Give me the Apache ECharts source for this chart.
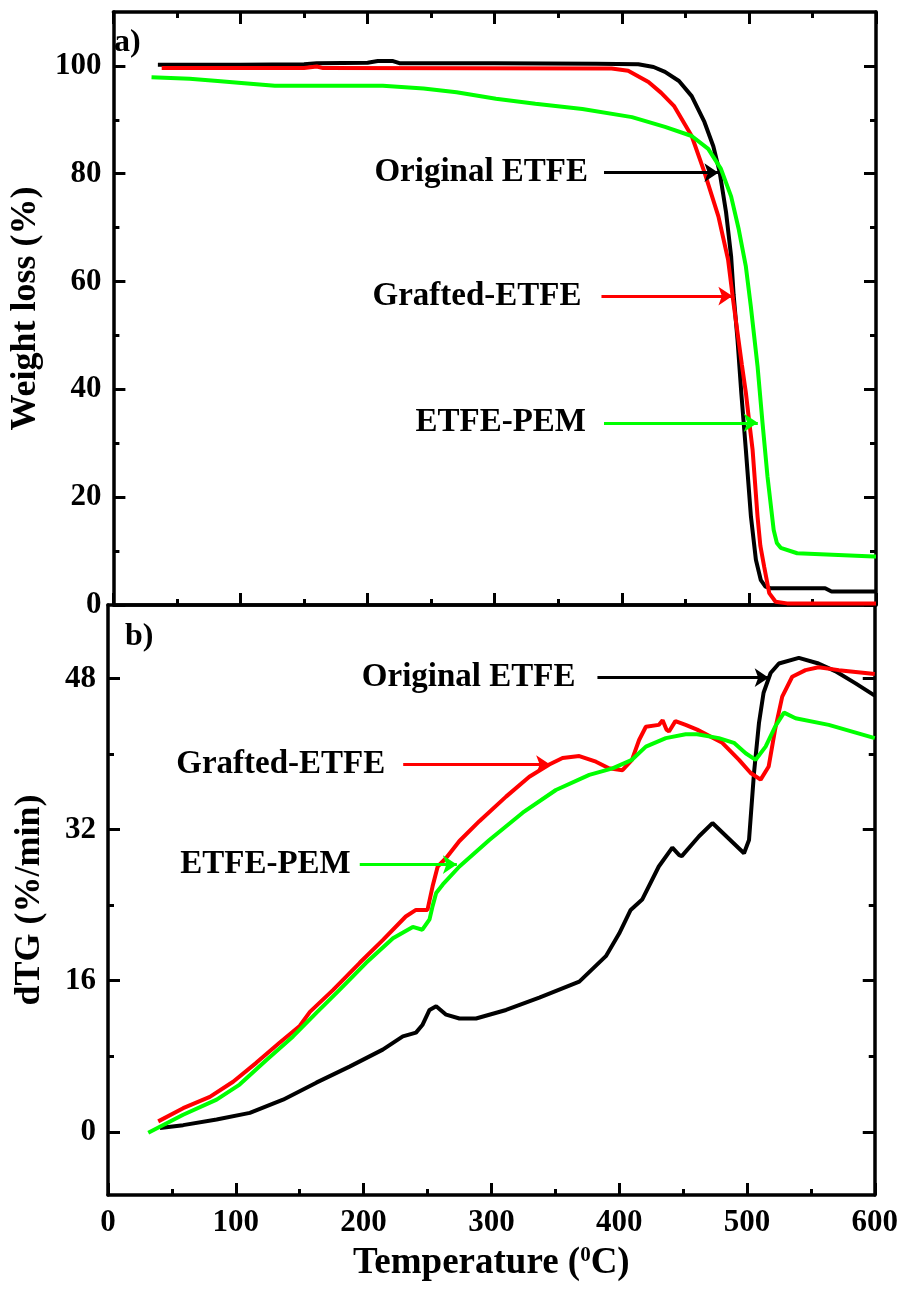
<!DOCTYPE html>
<html>
<head>
<meta charset="utf-8">
<title>TGA / dTG of ETFE membranes</title>
<script src="https://cdn.jsdelivr.net/npm/echarts@6/dist/echarts.min.js"></script>
<style>
    html, body { margin: 0; padding: 0; background: #fff; }
    #chart { width: 901px; height: 1292px; }
</style>
</head>
<body>
<div id="chart"></div>
<script>
// a) weight loss curves, temperature (oC) / weight (%)
const tgOriginalT = [35, 100, 150, 160, 200, 208, 220, 225, 300, 380, 413, 425, 434, 445, 455, 465, 472, 477, 482, 486, 488, 491, 494, 497.6, 501.6, 505.5, 509.4, 513, 517, 560, 565, 600];
const tgOriginalW = [100.2, 100.2, 100.3, 100.5, 100.6, 100.9, 100.9, 100.5, 100.5, 100.4, 100.3, 99.8, 98.9, 97.2, 94.4, 89.6, 85.1, 80.3, 72.9, 64.7, 57.5, 49.3, 39.4, 28.8, 16.4, 8.4, 4.6, 3.4, 3.1, 3.1, 2.5, 2.5];

const tgGraftedT = [38, 150, 160, 165, 392, 405, 421, 431, 441, 455, 465, 476, 483.6, 487.5, 491, 494.5, 497.6, 500, 502.9, 506.8, 509, 512, 516, 521, 530, 600];
const tgGraftedW = [99.6, 99.6, 99.9, 99.6, 99.5, 99.1, 97.0, 95.0, 92.6, 87.0, 80.3, 72.1, 64.1, 56.7, 50.6, 44.5, 39.4, 34.5, 28.8, 16.4, 11.0, 7.1, 2.2, 0.6, 0.3, 0.3];

const tgPemT = [30, 60, 82, 103, 127, 212, 244, 270, 301, 332, 369, 408, 434, 455, 468, 478, 486, 492, 497.6, 501.5, 506.8, 510.7, 514.6, 519.5, 522, 525, 538, 598, 600];
const tgPemW = [97.9, 97.6, 97.2, 96.8, 96.3, 96.3, 95.8, 95.1, 93.9, 93.0, 92.0, 90.5, 88.7, 87.0, 84.6, 80.9, 75.8, 69.7, 62.8, 55.4, 44.3, 33.8, 23.9, 13.9, 11.5, 10.6, 9.6, 9.0, 9.0];

// b) derivative curves, temperature (oC) / dTG (%/min)
const dtgOriginalT = [40.6, 58.8, 85, 111, 137, 163, 189, 215, 230.7, 241, 246, 251.6, 256.8, 264.6, 275, 288, 311.5, 337.5, 368.8, 389.6, 400, 409, 418, 431, 441.6, 447, 449, 462.5, 473, 497.7, 501.6, 505.5, 509.4, 513, 518.5, 525, 540.6, 556, 569, 585, 600];
const dtgOriginalV = [0.4, 0.7, 1.3, 2.0, 3.4, 5.2, 6.9, 8.7, 10.1, 10.5, 11.3, 12.9, 13.3, 12.4, 12.0, 12.0, 12.9, 14.2, 15.9, 18.6, 21.0, 23.5, 24.6, 28.1, 30.1, 29.3, 29.2, 31.3, 32.7, 29.5, 30.9, 38.0, 43.3, 46.5, 48.6, 49.6, 50.2, 49.6, 48.8, 47.5, 46.2];

const dtgGraftedT = [39.3, 58.8, 79.7, 97.9, 116, 134, 150, 158, 176, 197, 215, 233, 241, 250, 254, 258, 264.6, 275, 290.6, 311.5, 329.7, 345.3, 355.7, 368.8, 381.8, 392, 402.6, 410, 415.6, 420.9, 431, 434, 437, 439, 444, 452, 461, 480.7, 493.8, 502.9, 510.7, 517, 522, 527.6, 535.4, 545.8, 556, 571.9, 600];
const dtgGraftedV = [1.1, 2.5, 3.7, 5.3, 7.3, 9.4, 11.2, 12.7, 15.0, 17.9, 20.3, 22.8, 23.5, 23.5, 26.0, 28.1, 29.0, 30.8, 32.9, 35.5, 37.6, 38.9, 39.6, 39.8, 39.2, 38.5, 38.3, 39.4, 41.5, 42.9, 43.1, 43.6, 42.6, 42.4, 43.5, 43.1, 42.6, 41.2, 39.4, 38.0, 37.3, 38.7, 42.6, 46.1, 48.2, 48.9, 49.2, 48.9, 48.5];

const dtgPemT = [31.5, 58.8, 85, 103, 124, 144.8, 163, 181, 202, 223, 238.5, 246, 251.6, 254, 256.8, 262, 275, 298.4, 324.5, 350.5, 376.6, 394.8, 410, 420.9, 436.5, 452, 461, 478, 489.8, 499, 506.8, 514.6, 522, 529, 538, 564, 600];
const dtgPemV = [-0.1, 1.8, 3.4, 5.0, 7.6, 10.1, 12.6, 15.0, 17.9, 20.5, 21.7, 21.4, 22.5, 23.9, 25.3, 26.2, 28.1, 30.9, 33.8, 36.2, 37.8, 38.5, 39.4, 40.8, 41.7, 42.1, 42.1, 41.7, 41.2, 40.1, 39.4, 40.8, 42.9, 44.4, 43.8, 43.1, 41.7];

// tick values
const tempTicks = [0, 100, 200, 300, 400, 500, 600];
const weightTicks = [0, 20, 40, 60, 80, 100];
const weightMinorTicks = [10, 30, 50, 70, 90];
const dtgTicks = [0, 16, 32, 48];
const dtgMinorTicks = [8, 24, 40];

const FONT = '"Liberation Serif", "Times New Roman", serif';

function pairs(xs, ys) {
    return xs.map(function (x, i) { return [x, ys[i]]; });
}

let chart = echarts.init(document.getElementById('chart'), null, { renderer: 'canvas' });

let axisLine = { show: true, onZero: false, lineStyle: { color: '#000', width: 3.5 } };
let tickStyle = { color: '#000', width: 3 };

function tempAxis(grid, position, withTicks, withLabels) {
    let axis = {
        type: 'value',
        gridIndex: grid,
        position: position,
        min: 0,
        max: 600,
        interval: 100,
        axisLine: axisLine,
        axisTick: { show: withTicks, inside: true, length: 12, lineStyle: tickStyle },
        minorTick: { show: withTicks, splitNumber: 2, length: 6, lineStyle: tickStyle },
        axisLabel: { show: false },
        splitLine: { show: false },
        minorSplitLine: { show: false }
    };
    if (withLabels) {
        axis.axisLabel = {
            show: true, margin: 12, color: '#000',
            fontFamily: FONT, fontWeight: 'bold', fontSize: 31
        };
        axis.name = 'Temperature ({sup|0}C)';
        axis.nameLocation = 'middle';
        axis.nameGap = 50;
        axis.nameTextStyle = {
            color: '#000', fontFamily: FONT, fontWeight: 'bold', fontSize: 37,
            rich: {
                sup: { fontFamily: FONT, fontWeight: 'bold', fontSize: 21, color: '#000', padding: [0, 0, 16, 0] }
            }
        };
    }
    return axis;
}

// one axis draws major ticks (and labels), a twin draws the short minor ticks
function valueAxis(grid, position, min, max, major, minor, label, name) {
    let main = {
        type: 'value',
        gridIndex: grid,
        position: position,
        min: min,
        max: max,
        axisLine: axisLine,
        axisTick: { show: true, inside: true, length: 12, lineStyle: tickStyle, customValues: major },
        axisLabel: label ? {
            show: true, margin: 12, color: '#000',
            fontFamily: FONT, fontWeight: 'bold', fontSize: 31, customValues: major
        } : { show: false },
        splitLine: { show: false }
    };
    if (name) {
        main.name = name;
        main.nameLocation = 'middle';
        main.nameGap = 60;
        main.nameTextStyle = { color: '#000', fontFamily: FONT, fontWeight: 'bold', fontSize: 36 };
    }
    let twin = {
        type: 'value',
        gridIndex: grid,
        position: position,
        min: min,
        max: max,
        axisLine: { show: false, onZero: false },
        axisTick: { show: true, inside: true, length: 6, lineStyle: tickStyle, customValues: minor },
        axisLabel: { show: false },
        splitLine: { show: false }
    };
    return [main, twin];
}

function arrow(color, text, from, to, y, gap) {
    return {
        silent: true,
        animation: false,
        symbol: ['none', 'arrow'],
        symbolSize: 14,
        lineStyle: { color: color, width: 3, type: 'solid' },
        label: {
            show: true, position: 'start', distance: gap,
            formatter: text, color: '#000',
            fontFamily: FONT, fontWeight: 'bold', fontSize: 33
        },
        emphasis: { disabled: true },
        data: [[{ coord: [from, y] }, { coord: [to, y] }]]
    };
}

function curve(name, color, grid, xs, ys, mark) {
    let s = {
        name: name,
        type: 'line',
        xAxisIndex: grid === 0 ? 0 : 2,
        yAxisIndex: grid === 0 ? 0 : 4,
        data: pairs(xs, ys),
        showSymbol: false,
        symbol: 'none',
        lineStyle: { color: color, width: 4 },
        itemStyle: { color: color },
        animation: false,
        silent: true
    };
    if (mark) s.markLine = mark;
    return s;
}

let yAxes = []
    .concat(valueAxis(0, 'left', 0, 110, weightTicks, weightMinorTicks, true, 'Weight loss (%)'))
    .concat(valueAxis(0, 'right', 0, 110, weightTicks, weightMinorTicks, false))
    .concat(valueAxis(1, 'left', -6.7, 55.8, dtgTicks, dtgMinorTicks, true, 'dTG (%/min)'))
    .concat(valueAxis(1, 'right', -6.7, 55.8, dtgTicks, dtgMinorTicks, false));

let option = {
    backgroundColor: '#fff',
    animation: false,
    grid: [
        { left: 108, width: 768, top: 12, height: 593 },
        { left: 108, width: 768, top: 605, height: 590 }
    ],
    xAxis: [
        tempAxis(0, 'bottom', true, false),
        tempAxis(0, 'top', true, false),
        tempAxis(1, 'bottom', true, true),
        tempAxis(1, 'top', false, false)
    ],
    yAxis: yAxes,
    graphic: [
        { type: 'text', left: 114, top: 27, style: { text: 'a)', fill: '#000', font: 'bold 32px ' + FONT } },
        { type: 'text', left: 125, top: 621, style: { text: 'b)', fill: '#000', font: 'bold 32px ' + FONT } }
    ],
    series: [
        curve('Original ETFE', '#000000', 0, tgOriginalT, tgOriginalW, arrow('#000000', 'Original ETFE', 386, 476, 80.2, 16)),
        curve('Grafted-ETFE', '#ff0000', 0, tgGraftedT, tgGraftedW, arrow('#ff0000', 'Grafted-ETFE', 384, 487, 57.3, 20)),
        curve('ETFE-PEM', '#00ff00', 0, tgPemT, tgPemW, arrow('#00ff00', 'ETFE-PEM', 386, 507, 33.8, 18)),
        curve('Original ETFE', '#000000', 1, dtgOriginalT, dtgOriginalV, arrow('#000000', 'Original ETFE', 383, 517, 48.1, 22)),
        curve('Grafted-ETFE', '#ff0000', 1, dtgGraftedT, dtgGraftedV, arrow('#ff0000', 'Grafted-ETFE', 231, 346, 38.9, 18)),
        curve('ETFE-PEM', '#00ff00', 1, dtgPemT, dtgPemV, arrow('#00ff00', 'ETFE-PEM', 197, 273, 28.3, 9))
    ]
};

chart.setOption(option);
</script>
</body>
</html>
